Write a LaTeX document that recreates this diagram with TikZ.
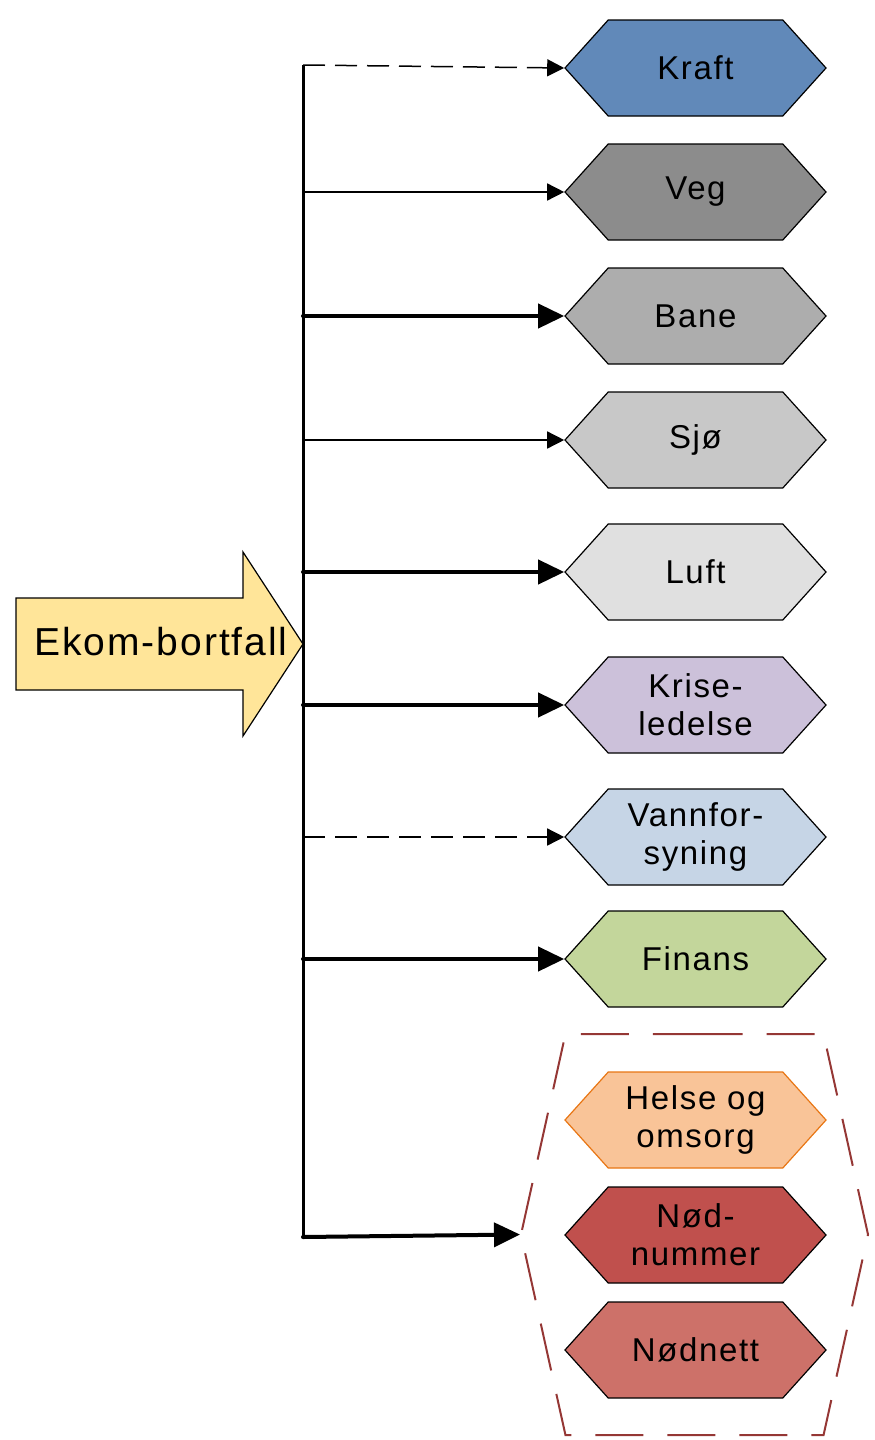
\documentclass[tikz,border=0pt]{standalone}
\usepackage{fontspec}
\setmainfont{Liberation Sans}
\newfontfamily\labelfont[LetterSpace=5]{Liberation Sans}
\usetikzlibrary{shapes.symbols,arrows.meta}

\definecolor{ekomfill}{RGB}{255,229,153}
\definecolor{kraftfill}{RGB}{97,137,185}
\definecolor{vegfill}{RGB}{140,140,140}
\definecolor{banefill}{RGB}{173,173,173}
\definecolor{sjofill}{RGB}{200,200,200}
\definecolor{luftfill}{RGB}{224,224,224}
\definecolor{krisefill}{RGB}{204,193,218}
\definecolor{vannfill}{RGB}{198,213,230}
\definecolor{finansfill}{RGB}{195,214,155}
\definecolor{helsefill}{RGB}{249,196,152}
\definecolor{helseline}{RGB}{232,118,20}
\definecolor{nodfill}{RGB}{192,80,77}
\definecolor{nettfill}{RGB}{205,113,105}
\definecolor{grpline}{RGB}{149,55,53}

\begin{document}
\begin{tikzpicture}[x=0.5pt,y=-0.5pt,
  sector/.style={shape=signal,signal to=east and west,signal pointer angle=96,
    line width=0.6pt,minimum width=130.5pt,minimum height=48pt,inner sep=0pt,
    align=center,font=\labelfont\fontsize{16.5}{19}\selectfont},
  lightlink/.style={line width=0.75pt,-{Triangle[length=8.5pt,width=8.5pt]}},
  dashlink/.style={lightlink,dash pattern=on 11pt off 5pt},
  heavylink/.style={line width=2pt,line cap=round,-{Triangle[length=13pt,width=12pt]}}]

\useasboundingbox (0,0) rectangle (874,1440);

% input arrow
\draw[fill=ekomfill,line width=0.6pt] (16,598) -- (243,598) -- (243,552) -- (303,644)
  -- (243,736) -- (243,690) -- (16,690) -- cycle;
\node[font=\labelfont\fontsize{19.5}{22}\selectfont] (ekom) at (161,642) {Ekom-bortfall};

% trunk
\coordinate (top) at (303,65);
\coordinate (bot) at (303,1237);
\draw[line width=1.5pt] (top) -- (bot);

% sectors
\foreach \id/\y/\fc/\dc/\txt in {kraft/68/kraftfill/black/Kraft,
    veg/192/vegfill/black/Veg,
    bane/316/banefill/black/Bane,
    sjo/440/sjofill/black/Sjø,
    luft/572/luftfill/black/Luft,
    krise/705/krisefill/black/{Krise-\\ledelse},
    vann/837/vannfill/black/{Vannfor-\\syning},
    finans/959/finansfill/black/Finans,
    helse/1120/helsefill/helseline/{Helse og\\omsorg},
    nod/1235/nodfill/black/{Nød-\\nummer},
    nett/1350/nettfill/black/Nødnett}
  \node[sector,fill=\fc,draw=\dc] (\id) at (695.5,\y) {\txt};

% group
\node[shape=signal,signal to=east and west,signal pointer angle=155,
  draw=grpline,line width=1pt,dash pattern=on 24pt off 12pt,
  minimum width=173.5pt,minimum height=200.5pt] (grp) at (694.5,1234.5) {};

% links
\draw[dashlink] (top) -- (kraft.west);
\draw[lightlink] (top |- veg.west) -- (veg.west);
\draw[heavylink] (top |- bane.west) -- (bane.west);
\draw[lightlink] (top |- sjo.west) -- (sjo.west);
\draw[heavylink] (top |- luft.west) -- (luft.west);
\draw[heavylink] (top |- krise.west) -- (krise.west);
\draw[dashlink] (top |- vann.west) -- (vann.west);
\draw[heavylink] (top |- finans.west) -- (finans.west);
\draw[heavylink] (bot) -- (grp.west);

\end{tikzpicture}
\end{document}
